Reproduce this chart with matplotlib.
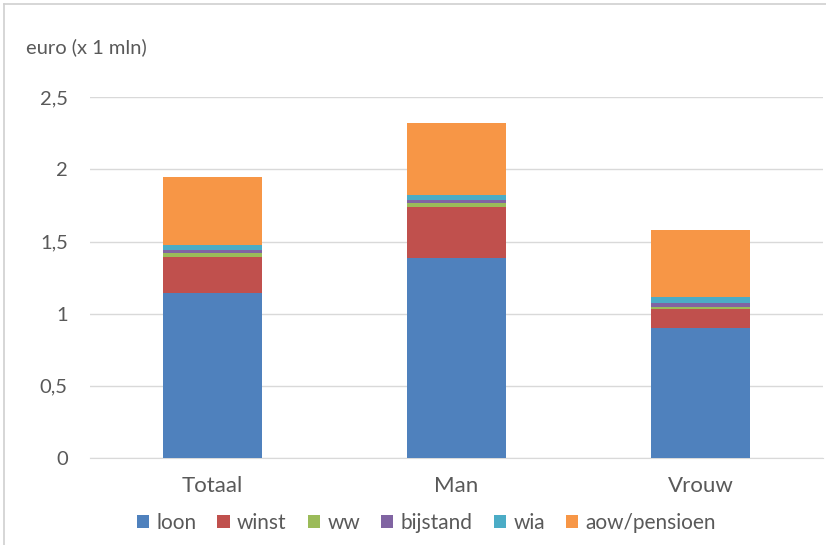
import numpy as np
import matplotlib.pyplot as plt
from matplotlib.lines import Line2D
from matplotlib.ticker import FuncFormatter

plt.rcParams['font.family'] = ['Lato', 'DejaVu Sans']

groepen = ['Totaal', 'Man', 'Vrouw']
series = ['loon', 'winst', 'ww', 'bijstand', 'wia', 'aow/pensioen']
loon = [1.143, 1.385, 0.900]
winst = [0.250, 0.353, 0.130]
ww = [0.025, 0.028, 0.015]
bijstand = [0.022, 0.020, 0.028]
wia = [0.035, 0.035, 0.042]
aow = [0.471, 0.500, 0.465]

kleuren = ['#4F81BD', '#C0504D', '#9BBB59', '#8064A2', '#4BACC6', '#F79646']
tekst = '#595959'

fig = plt.figure(figsize=(8.26, 5.45), dpi=100)
ax = fig.add_axes([0.109, 0.1596, 0.887, 0.662])

x = np.arange(len(groepen))
onder = np.zeros(len(groepen))
for naam, waarden, kleur in zip(series, [loon, winst, ww, bijstand, wia, aow], kleuren):
    ax.bar(x, waarden, 0.405, bottom=onder, color=kleur, label=naam, zorder=3)
    onder += np.array(waarden)

ax.set_xlim(-0.5, 2.5)
ax.set_ylim(0, 2.5)
ax.set_yticks(np.arange(0, 2.51, 0.5))
ax.yaxis.set_major_formatter(FuncFormatter(lambda v, p: f'{v:g}'.replace('.', ',')))
ax.grid(axis='y', color='#d9d9d9', linewidth=1, zorder=0)
for s in ['top', 'right', 'left']:
    ax.spines[s].set_visible(False)
ax.spines['bottom'].set_color('#d9d9d9')
ax.tick_params(axis='both', length=0, colors=tekst)
ax.tick_params(axis='y', pad=16, labelsize=14.5)
ax.tick_params(axis='x', pad=13, labelsize=16)
ax.set_xticks(x)
ax.set_xticklabels(groepen)

fig.text(0.031, 0.914, 'euro (x 1 mln)', fontsize=14.5, color=tekst, va='center')

# legenda onder de grafiek
ax.legend(loc='center', bbox_to_anchor=(0.459, -0.18), ncol=6, frameon=False,
          fontsize=15, labelcolor=tekst, handlelength=0.6, handleheight=0.6,
          handletextpad=0.35, columnspacing=1.0)

# kader rond de figuur
fig.add_artist(Line2D([0.005, 0.005], [0, 0.993], color='#d0d0d0', lw=1.2))
fig.add_artist(Line2D([0.005, 1], [0.993, 0.993], color='#d0d0d0', lw=1.2))

fig.savefig('out.png', dpi=100)
